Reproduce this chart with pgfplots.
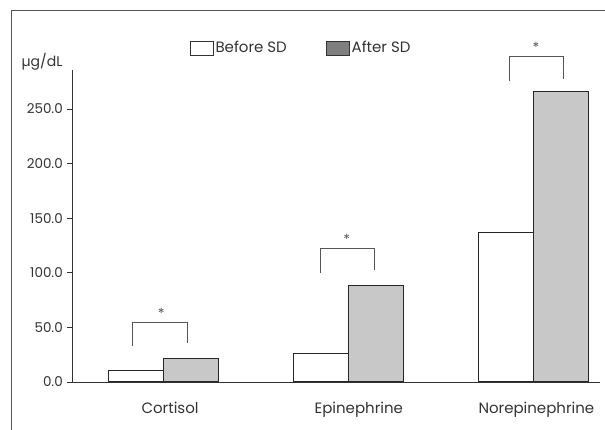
\documentclass[border=0pt]{standalone}
\usepackage{pgfplots}
\pgfplotsset{compat=1.18}
\usepackage{fontspec}
\setmainfont{Poppins}
\definecolor{txt}{HTML}{333333}
\definecolor{barfill}{HTML}{C8C8C9}
\definecolor{legdark}{HTML}{7F7F7F}
\definecolor{framec}{HTML}{555555}
\definecolor{brk}{HTML}{555555}
\begin{document}
\fontsize{15}{17}\selectfont
\begin{tikzpicture}
\useasboundingbox (0pt,0pt) rectangle (605pt,430pt);
\draw[framec, line width=1pt] (11pt,0pt) -- (11pt,419pt) -- (605pt,419pt);
\begin{axis}[
  at={(72pt,48pt)}, anchor=south west,
  scale only axis, width=528pt, height=312pt,
  xmin=-0.494, xmax=2.36, ymin=0, ymax=285.7,
  axis x line=bottom, axis y line=left,
  axis line style={-, draw=txt, line width=0.9pt},
  clip=false,
  tick align=outside, major tick length=5pt,
  ytick={0,50,100,150,200,250},
  /pgf/number format/fixed, /pgf/number format/fixed zerofill, /pgf/number format/precision=1, /pgf/number format/assume math mode=true,
  yticklabel style={text=txt, font=\fontsize{13.5}{15}\selectfont, xshift=1pt},
  ytick style={draw=txt, line width=0.9pt},
  xtick={0.036,1.056,2.016},
  xticklabels={Cortisol, Epinephrine, Norepinephrine},
  xtick style={draw=none},
  xticklabel style={text=txt, yshift=-10pt},
  legend columns=2,
  legend style={at={(0.2235,1.0705)}, anchor=west, draw=none, fill=none, inner sep=0pt,
    /tikz/every even column/.append style={column sep=38pt},
    nodes={inner sep=1.5pt, text=txt}},
  legend image code/.code={\draw[#1] (0pt,-7pt) rectangle (23pt,7pt);},
]
\addplot[ybar, bar width=0.297, bar shift=-0.1486, fill=white, draw=black!85, line width=1pt, forget plot]
  coordinates {(0,10.7) (1,26.3) (2,136.7)};
\addplot[ybar, bar width=0.297, bar shift=0.1486, fill=barfill, draw=black!85, line width=1pt, forget plot]
  coordinates {(0,21.3) (1,88.5) (2,265.8)};
\addlegendimage{fill=white, draw=txt, line width=0.8pt}
\addlegendentry{Before SD}
\addlegendimage{fill=legdark, draw=txt, line width=0.8pt}
\addlegendentry{After SD}
\draw[brk, line width=0.9pt] (axis cs:-0.168,33.2) -- (axis cs:-0.168,54.9) -- (axis cs:0.130,54.9) -- (axis cs:0.130,35.4);
\draw[brk, line width=0.9pt] (axis cs:0.847,100.1) -- (axis cs:0.847,122.4) -- (axis cs:1.143,122.4) -- (axis cs:1.143,102.3);
\draw[brk, line width=0.9pt] (axis cs:1.870,275.6) -- (axis cs:1.870,297.9) -- (axis cs:2.165,297.9) -- (axis cs:2.165,277.7);
\node[text=brk, font=\fontsize{14}{15}\selectfont] at (axis cs:-0.011,63) {*};
\node[text=brk, font=\fontsize{14}{15}\selectfont] at (axis cs:0.991,130.5) {*};
\node[text=brk, font=\fontsize{14}{15}\selectfont] at (axis cs:2.014,306) {*};
\end{axis}
\node[text=txt, font=\fontsize{14}{16}\selectfont] at (42pt,368pt) {\textmu g/dL};
\end{tikzpicture}
\end{document}
